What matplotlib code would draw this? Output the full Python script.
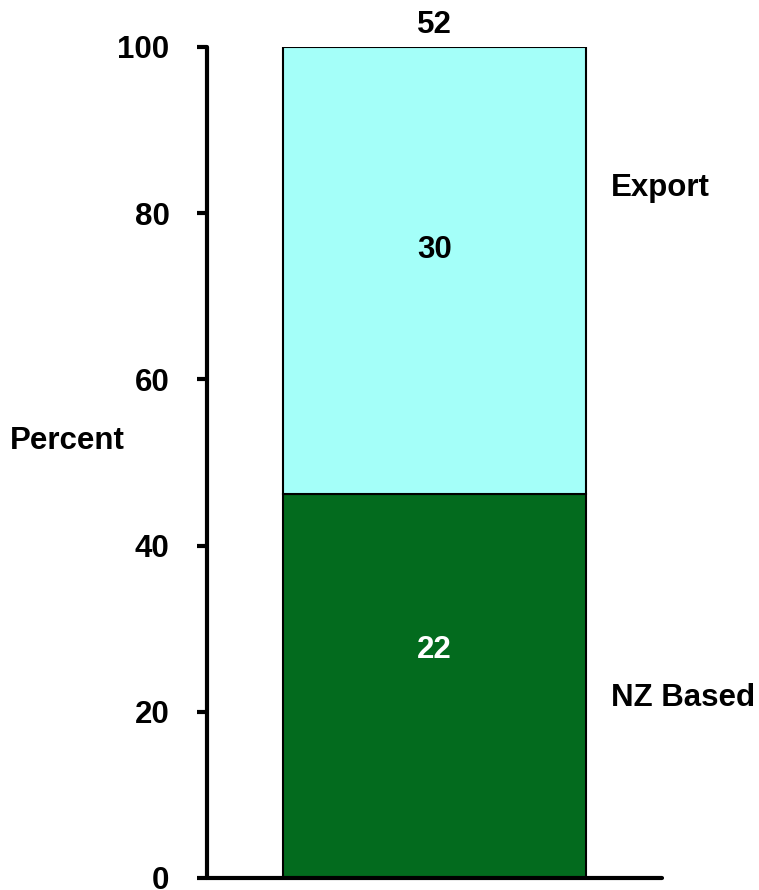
import matplotlib.pyplot as plt

# stacked shares (percent of total) and the counts shown on the bar
segments = ['NZ Based', 'Export']
pct = [46.2, 53.8]
counts = [22, 30]
total = 52
colors = ['#036B1E', '#A4FFF9']
yticks = [0, 20, 40, 60, 80, 100]

plt.rcParams['font.family'] = ['Liberation Sans', 'DejaVu Sans']
plt.rcParams['font.weight'] = 'bold'
fs = 22.5

fig = plt.figure(figsize=(7.59, 8.9), dpi=100)
ax = fig.add_axes([0.2727, 0.0135, 0.5995, 0.9337])

bottom = 0
mids = []
for name, p, c in zip(segments, pct, colors):
    ax.bar(0, p, width=1.0, bottom=bottom, color=c, edgecolor='black', linewidth=1.5, zorder=2)
    mids.append(bottom + p / 2)
    bottom += p

ax.set_xlim(-0.75, 0.75)
ax.set_ylim(0, 100)
ax.set_yticks(yticks)
ax.set_yticklabels([str(t) for t in yticks], fontsize=fs, fontweight='bold')
ax.set_xticks([])

for s in ['top', 'right']:
    ax.spines[s].set_visible(False)
for s in ['left', 'bottom']:
    ax.spines[s].set_linewidth(3)
    ax.spines[s].set_capstyle('round')
ax.tick_params(axis='y', direction='out', length=7, width=3, pad=20)

# counts inside the segments
ax.annotate(str(counts[0]), (0, mids[0]), xytext=(0, 26), textcoords='offset points',
            ha='center', va='center', fontsize=fs, fontweight='bold', color='white')
ax.annotate(str(counts[1]), (0, mids[1]), xytext=(0, 15), textcoords='offset points',
            ha='center', va='center', fontsize=fs, fontweight='bold', color='black')
ax.annotate(str(total), (0, 100), xytext=(0, 16), textcoords='offset points',
            ha='center', va='center', fontsize=fs, fontweight='bold', annotation_clip=False)

# segment names on the right
tr = ax.get_yaxis_transform()
ax.text(0.888, 83.0, segments[1], transform=tr, ha='left', va='center', fontsize=fs, fontweight='bold')
ax.text(0.888, 21.7, segments[0], transform=tr, ha='left', va='center', fontsize=fs, fontweight='bold')

fig.text(10 / 759, 1 - 441 / 890, 'Percent', ha='left', va='center', fontsize=fs, fontweight='bold')

fig.savefig('out.png', dpi=100)
